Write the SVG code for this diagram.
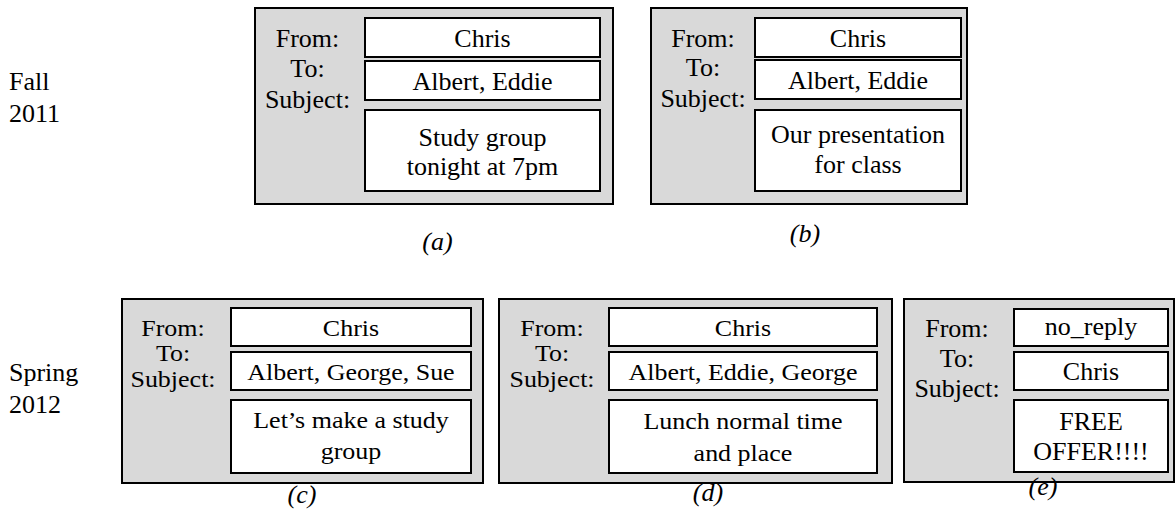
<svg xmlns="http://www.w3.org/2000/svg" width="1175" height="525" viewBox="0 0 1175 525">
  <style>
    .panel { fill: #d9d9d9; stroke: #000; stroke-width: 2; }
    .field { fill: #fff; stroke: #000; stroke-width: 2; }
    text { font-family: "Liberation Serif", "Times New Roman", serif; font-size: 26px; fill: #000; }
    .c { text-anchor: middle; }
    .cap { font-style: italic; text-anchor: middle; }
  </style>
  <rect width="1175" height="525" fill="#fff"/>

  <!-- semester labels -->
  <g id="semester-fall">
    <text x="9" y="90">Fall</text>
    <text x="9" y="122">2011</text>
  </g>
  <g id="semester-spring">
    <text x="9" y="381">Spring</text>
    <text x="9" y="413">2012</text>
  </g>

  <!-- email (a) -->
  <g id="email-a">
    <rect class="panel" x="255" y="8" width="358" height="196"/>
    <rect class="field" x="365" y="18" width="235" height="39"/>
    <rect class="field" x="365" y="61" width="235" height="39"/>
    <rect class="field" x="365" y="110" width="235" height="81"/>
    <text class="c" x="307.5" y="47">From:</text>
    <text class="c" x="307.5" y="77">To:</text>
    <text class="c" x="307.5" y="108">Subject:</text>
    <text class="c" x="482.5" y="47">Chris</text>
    <text class="c" x="482.5" y="90">Albert, Eddie</text>
    <text class="c" x="482.5" y="146">Study group</text>
    <text class="c" x="482.5" y="175">tonight at 7pm</text>
    <text class="cap" x="437.5" y="250">(a)</text>
  </g>

  <!-- email (b) -->
  <g id="email-b">
    <rect class="panel" x="651" y="8" width="316" height="196"/>
    <rect class="field" x="755" y="18" width="206" height="39"/>
    <rect class="field" x="755" y="60" width="206" height="39"/>
    <rect class="field" x="755" y="110" width="206" height="81"/>
    <text class="c" x="703" y="47">From:</text>
    <text class="c" x="703" y="76">To:</text>
    <text class="c" x="703" y="107">Subject:</text>
    <text class="c" x="858" y="47">Chris</text>
    <text class="c" x="858" y="89">Albert, Eddie</text>
    <text class="c" x="858" y="143">Our presentation</text>
    <text class="c" x="858" y="173">for class</text>
    <text class="cap" x="805" y="242">(b)</text>
  </g>

  <!-- email (c): text is set slightly condensed vertically -->
  <g id="email-c">
    <rect class="panel" x="122" y="299" width="361" height="184"/>
    <rect class="field" x="231" y="308" width="240" height="38"/>
    <rect class="field" x="231" y="352" width="240" height="38"/>
    <rect class="field" x="231" y="400" width="240" height="73"/>
    <text class="c" transform="matrix(1 0 0 0.85 173 336)">From:</text>
    <text class="c" transform="matrix(1 0 0 0.85 173 361)">To:</text>
    <text class="c" transform="matrix(1 0 0 0.85 173 387)">Subject:</text>
    <text class="c" transform="matrix(1 0 0 0.85 351 336)">Chris</text>
    <text class="c" transform="matrix(1 0 0 0.85 351 380)">Albert, George, Sue</text>
    <text class="c" transform="matrix(1 0 0 0.85 351 428)">Let’s make a study</text>
    <text class="c" transform="matrix(1 0 0 0.85 351 459)">group</text>
    <text class="cap" x="302" y="503">(c)</text>
  </g>

  <!-- email (d): text is set slightly condensed vertically -->
  <g id="email-d">
    <rect class="panel" x="499" y="299" width="393" height="184"/>
    <rect class="field" x="609" y="308" width="268" height="38"/>
    <rect class="field" x="609" y="352" width="268" height="38"/>
    <rect class="field" x="609" y="400" width="268" height="73"/>
    <text class="c" transform="matrix(1 0 0 0.85 552 336)">From:</text>
    <text class="c" transform="matrix(1 0 0 0.85 552 361)">To:</text>
    <text class="c" transform="matrix(1 0 0 0.85 552 387)">Subject:</text>
    <text class="c" transform="matrix(1 0 0 0.85 743 336)">Chris</text>
    <text class="c" transform="matrix(1 0 0 0.85 743 380)">Albert, Eddie, George</text>
    <text class="c" transform="matrix(1 0 0 0.85 743 429)">Lunch normal time</text>
    <text class="c" transform="matrix(1 0 0 0.85 743 461)">and place</text>
    <text class="cap" x="708" y="501">(d)</text>
  </g>

  <!-- email (e) -->
  <g id="email-e">
    <rect class="panel" x="904" y="299" width="270" height="183"/>
    <rect class="field" x="1014" y="309" width="154" height="37"/>
    <rect class="field" x="1014" y="352" width="154" height="38"/>
    <rect class="field" x="1014" y="400" width="154" height="72"/>
    <text class="c" x="957" y="337">From:</text>
    <text class="c" x="957" y="367">To:</text>
    <text class="c" x="957" y="397">Subject:</text>
    <text class="c" x="1091" y="335">no_reply</text>
    <text class="c" x="1091" y="380">Chris</text>
    <text class="c" x="1091" y="430">FREE</text>
    <text class="c" x="1091" y="460">OFFER!!!!</text>
    <text class="cap" x="1043" y="495">(e)</text>
  </g>
</svg>
